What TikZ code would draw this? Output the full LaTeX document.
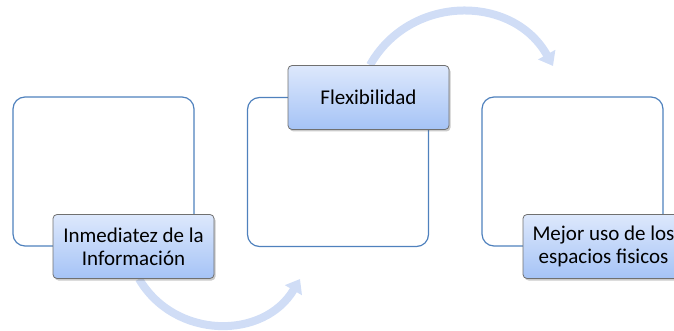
\documentclass[tikz,border=0pt]{standalone}
\usepackage{fontspec}
\setmainfont{Carlito}
\usetikzlibrary{arrows.meta,shadows,backgrounds}

\definecolor{frameblue}{HTML}{4F81BD}
\definecolor{labeltop}{HTML}{DDE8FC}
\definecolor{labelbottom}{HTML}{A5C3F6}
\definecolor{labeledge}{HTML}{707070}
\definecolor{flowblue}{HTML}{D0DDF6}

\tikzset{
  panel/.style={draw=frameblue, line width=1.2pt, rounded corners=12pt,
    minimum width=181pt, minimum height=149pt, inner sep=0pt},
  tagbox/.style={draw=labeledge, line width=0.8pt, rounded corners=4pt,
    top color=labeltop, bottom color=labelbottom,
    minimum width=161pt, minimum height=64pt, inner sep=0pt, align=center,
    font=\fontsize{21}{23}\selectfont,
    drop shadow={shadow xshift=1.5pt, shadow yshift=-2pt, opacity=.35, fill=black!60}},
  flow/.style={draw=flowblue, line width=8pt, -{Triangle[length=13pt,width=19pt]}}
}

\begin{document}
\begin{tikzpicture}[x=1pt, y=-1pt, line width=1pt]
    \clip (0,0) rectangle (674,331);

    \node[panel] (pan1) at (103.5,171.5) {};
    \node[panel] (pan2) at (338,172) {};
    \node[panel] (pan3) at (572.5,171.5) {};

    \node[tagbox] (inmed) at (133.5,246.5) {Inmediatez de la\\Información};
    \node[tagbox] (flex) at (368.5,97.5) {Flexibilidad};
    \node[tagbox] (mejor) at (603.5,246.5) {Mejor uso de los\\espacios fisicos};

    \coordinate (tip1) at (300,279);
    \coordinate (tip2) at (553,66);

    \begin{pgfonlayer}{background}
    \draw[flow] ([xshift=5.5pt]inmed.south) .. controls (175,340) and (264,340) .. (tip1);
    \draw[flow] ([xshift=1.5pt]flex.north) .. controls (410,-6) and (513,-6) .. (tip2);
    \end{pgfonlayer}
\end{tikzpicture}
\end{document}
